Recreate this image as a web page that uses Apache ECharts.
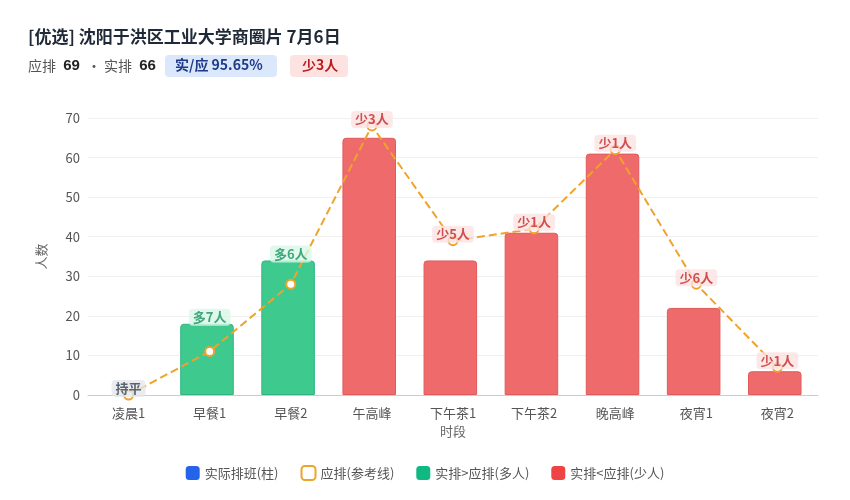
<!DOCTYPE html>
<html><head><meta charset="utf-8">
<script src="https://cdn.jsdelivr.net/npm/echarts@6/dist/echarts.min.js"></script>
<style>html,body{margin:0;background:#fff}#c{width:850px;height:500px}</style>
</head><body><div id="c"></div>
<script>
const categories=['凌晨1','早餐1','早餐2','午高峰','下午茶1','下午茶2','晚高峰','夜宵1','夜宵2'];
const actual=[0,18,34,65,34,41,61,22,6];
const expected=[0,11,28,68,39,42,62,28,7];
const diffLabels=['持平','多7人','多6人','少3人','少5人','少1人','少1人','少6人','少1人'];
const yTicks=[0,10,20,30,40,50,60,70];
const GREEN='#3ec98f',RED='#ef6b6b',BLUE='#2563eb',ORANGE='#f0a32a';
const F='"Noto Sans CJK SC","Noto Sans",sans-serif';
const chart=echarts.init(document.getElementById('c'));
const barData=actual.map((v,i)=>({value:v,itemStyle:v===0?{opacity:0}:{color:v>expected[i]?GREEN:RED,borderColor:v>expected[i]?'#2fb57d':'#e05a5a'}}));
const lblData=actual.map((v,i)=>{const d=v-expected[i];
 const s=d>0?{color:'#16935f',bg:'#d9f7e8'}:d<0?{color:'#c62828',bg:'#fde2e2'}:{color:'#374151',bg:'#e5e7eb'};
 return {value:Math.max(v,expected[i]),label:{formatter:diffLabels[i],color:s.color,backgroundColor:s.bg}};});
chart.setOption({
 textStyle:{fontFamily:F},
 graphic:[
  {type:'text',left:28,top:28,style:{text:'[优选] 沈阳于洪区工业大学商圈片 7月6日',font:'bold 17px '+F,fill:'#1f2937'}},
  {type:'text',left:28,top:58,style:{text:'应排 {b|69} · 实排 {b|66}',font:'14px '+F,fill:'#555',rich:{b:{fontWeight:'bold',fontSize:15,fill:'#222',padding:[0,4]}}}},
  {type:'rect',left:165,top:55,shape:{width:112,height:22,r:4},style:{fill:'#dbe8fb'}},
  {type:'text',left:175,top:58,style:{text:'实/应 95.65%',font:'bold 14px '+F,fill:'#1e3a8a'}},
  {type:'rect',left:290,top:55,shape:{width:58,height:22,r:4},style:{fill:'#fde2e2'}},
  {type:'text',left:302,top:58,style:{text:'少3人',font:'bold 14px '+F,fill:'#b91c1c'}}
 ],
 legend:{bottom:14,left:'center',itemWidth:14,itemHeight:14,itemGap:22,textStyle:{color:'#555',fontSize:13},
  data:[{name:'实际排班(柱)',icon:'roundRect',itemStyle:{color:BLUE}},
   {name:'应排(参考线)',icon:'roundRect',itemStyle:{color:'#fff',borderColor:ORANGE,borderWidth:2}},
   {name:'实排>应排(多人)',icon:'roundRect',itemStyle:{color:'#10b981'}},
   {name:'实排<应排(少人)',icon:'roundRect',itemStyle:{color:'#ef4444'}}]},
 grid:{left:88,right:32,top:118,bottom:105},
 xAxis:{type:'category',data:categories,name:'时段',nameLocation:'middle',nameGap:30,nameTextStyle:{color:'#666',fontSize:13},
  axisLine:{lineStyle:{color:'#ccc'}},axisTick:{show:false},axisLabel:{color:'#555',fontSize:13,margin:12}},
 yAxis:{type:'value',min:0,max:70,interval:10,name:'人数',nameLocation:'middle',nameGap:40,nameTextStyle:{color:'#666',fontSize:13},
  axisLabel:{color:'#555',fontSize:13,formatter:v=>yTicks.includes(v)?v:''},splitLine:{lineStyle:{color:'#f0f0f0'}}},
 series:[
  {name:'实际排班(柱)',type:'bar',barWidth:'66%',data:barData,itemStyle:{borderRadius:[3,3,0,0],borderWidth:1}},
  {name:'应排(参考线)',type:'line',data:expected,lineStyle:{color:ORANGE,type:'dashed',width:2},symbol:'circle',symbolSize:9,
   itemStyle:{color:'#fff',borderColor:ORANGE,borderWidth:2},z:5},
  {name:'实排>应排(多人)',type:'bar',data:[]},
  {name:'实排<应排(少人)',type:'bar',data:[]},
  {name:'lbl',type:'scatter',data:lblData,symbolSize:0,silent:true,z:10,
   label:{show:true,position:'top',distance:-2,fontWeight:'bold',fontSize:13,padding:[2,4],borderRadius:4}}
 ]
});
</script></body></html>
